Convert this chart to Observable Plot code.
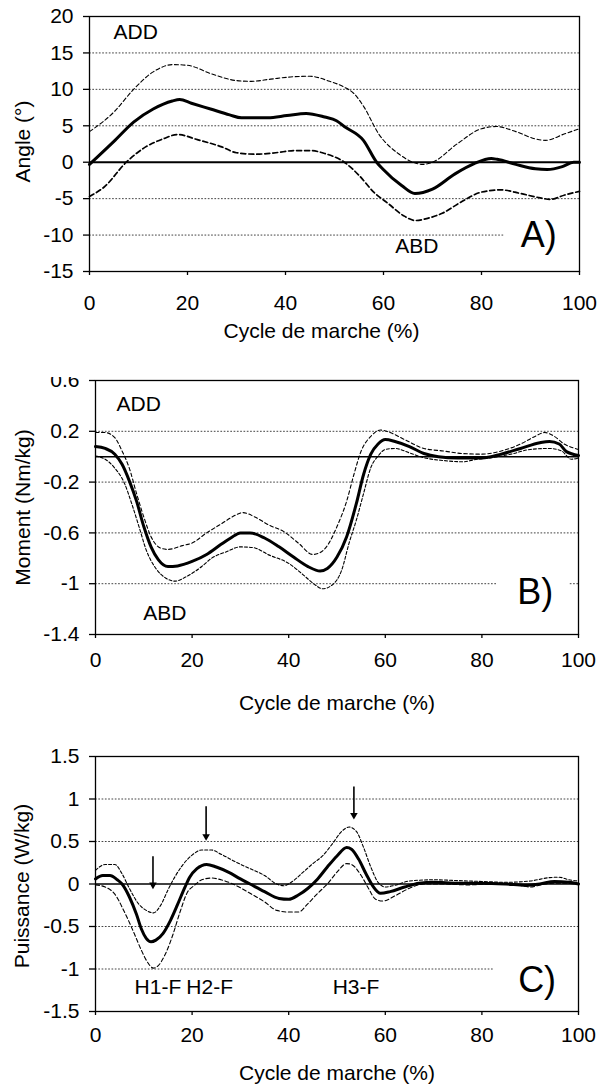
<!DOCTYPE html>
<html><head><meta charset="utf-8">
<script src="https://cdn.jsdelivr.net/npm/d3@7"></script>
<script src="https://cdn.jsdelivr.net/npm/@observablehq/plot@0.6"></script>
<style>
body{margin:0;background:#fff;width:600px;height:1091px;position:relative;overflow:hidden;font-family:"Liberation Sans",Arial,sans-serif}
.panel{position:absolute;left:0;width:600px;overflow:hidden}
</style></head><body>
<div id="a" class="panel" style="top:0;height:350px"></div>
<div id="b" class="panel" style="top:377px;height:343px"></div>
<div id="c" class="panel" style="top:730px;height:361px"></div>
<script>
const FONT = '"Liberation Sans", Arial, Helvetica, sans-serif';
const FS = 21;
const xTicks = [0, 20, 40, 60, 80, 100];
const xTitle = "Cycle de marche (%)";

// ---------- Panel A : angle ----------
const aTicks = [-15, -10, -5, 0, 5, 10, 15, 20];
const aGrid = [15, 10, 5, -5, -10];
const aGaps = [{y: -10, from: 84.6, to: 100}];
const aMeanX = [0,5.2,9,13,16.9,18.4,20.8,24.7,28.6,31,36.4,40.3,44.2,48,50.4,52,55.9,58.6,59.8,63.7,66.4,70,74.6,78.5,82,83.2,87,91,93.4,96.5,98.8,100];
const aMeanY = [-0.3,3.0,5.5,7.3,8.4,8.6,8.1,7.3,6.5,6.1,6.1,6.4,6.7,6.2,5.7,4.9,3.0,0,-0.9,-3.2,-4.3,-3.7,-1.6,-0.2,0.5,0.4,-0.3,-0.9,-1.0,-0.6,0,0];
const aUpX = [0,5,9,13,17,20,25,30,33,37,41,45,49,52,54,56,59,63,66,68,70,75,80,83,87,91,93,97,100];
const aUpY = [4.2,6.9,10,12.4,13.4,13.3,12.1,11.2,11.1,11.4,11.7,11.8,11.1,10.3,9.4,7.6,3.9,1.2,0,-0.3,0,2.5,4.6,4.9,4.2,3.2,3.0,3.9,4.6];
const aLoX = [0,3,7.5,11,15,18,22,27,30,34,38,42,45,48,52,55,58,61,64,66.5,69,72,76,80,84,88,92,94,97,100];
const aLoY = [-4.7,-3.4,0,1.9,3.2,3.8,3.1,2.1,1.3,1.1,1.3,1.6,1.6,1.2,0,-1.8,-4.1,-5.7,-7.3,-8.0,-7.7,-7.0,-5.4,-4.1,-3.8,-4.3,-4.9,-5.1,-4.5,-4.0];
const aNotes = [{label: "ADD", x: 4.9, y: 17.9}, {label: "ABD", x: 62.4, y: -11.6}];
const aTag = [{label: "A)", x: 88, y: -10.1}];

// ---------- Panel B : moment ----------
const bTicks = [-1.4, -1, -0.6, -0.2, 0.2, 0.6];
const bGrid = [0.2, -0.2, -0.6, -1];
const bGaps = [{y: -1, from: 83.2, to: 98.3}];
const bMeanX = [0,2,4,5.5,7,8.5,10,11.5,13,15,17,20,23,26,28,30,32,35,38,41,44,46.5,48,50,52,54,55.5,57,58.5,60,62,65,68,71,75,80,84,88,92,94,96,97.5,100];
const bMeanY = [0.08,0.065,0.02,-0.06,-0.19,-0.35,-0.55,-0.71,-0.81,-0.865,-0.86,-0.825,-0.77,-0.69,-0.64,-0.6,-0.6,-0.64,-0.71,-0.79,-0.865,-0.9,-0.88,-0.79,-0.63,-0.37,-0.14,0.02,0.1,0.135,0.12,0.08,0.025,0,-0.01,-0.01,0.02,0.065,0.11,0.12,0.1,0.04,0.01];
const bUpX = [0,2,4,5.5,7,8.5,10,11.5,13.5,15,18,20,23,26,29,30.5,33,36,39,42,45,46.5,48,50,52,53.5,55,57,59,61,64,68,72,76,80,84,88,91,93,95,97,98.5,100];
const bUpY = [0.19,0.19,0.15,0.045,-0.09,-0.29,-0.475,-0.63,-0.72,-0.73,-0.70,-0.68,-0.6,-0.53,-0.46,-0.44,-0.475,-0.54,-0.59,-0.68,-0.77,-0.755,-0.70,-0.55,-0.35,-0.14,0.045,0.16,0.21,0.19,0.135,0.065,0.045,0.025,0.02,0.045,0.1,0.16,0.19,0.16,0.1,0.075,0.057];
const bLoX = [0,2,4,6,7.5,9,10.5,12.5,14.5,16.5,19,22,24,27,30,32.5,36,40,43,45.5,47,49,51,52.5,54,55.5,57,58.5,60,62,65,68,72,76,79,82,86,90,94,96.5,98.5,100];
const bLoY = [0.005,-0.02,-0.09,-0.21,-0.37,-0.55,-0.735,-0.88,-0.955,-0.98,-0.94,-0.865,-0.8,-0.75,-0.71,-0.715,-0.775,-0.84,-0.93,-1.01,-1.04,-1.01,-0.89,-0.68,-0.5,-0.29,-0.086,0.005,0.057,0.065,0.03,-0.008,-0.03,-0.04,-0.02,-0.008,0.02,0.057,0.065,0.045,-0.02,-0.01];
const bNotes = [{label: "ADD", x: 4.35, y: 0.41}, {label: "ABD", x: 9.9, y: -1.23}];
const bTag = [{label: "B)", x: 87.3, y: -1.067}];

// ---------- Panel C : puissance ----------
const cTicks = [-1.5, -1, -0.5, 0, 0.5, 1, 1.5];
const cGrid = [1, 0.5, -0.5, -1];
const cGaps = [{y: -1, from: 82.4, to: 100}];
const cMeanX = [0,1.5,3,4.5,5.5,7,8.5,9.5,10.5,11.5,12.5,14,15.5,17,18.5,19.5,21,23,25,27.5,30,32,35,38,40,42,44,46,48,50,52,53,54.5,56,57.5,59,61,64,67,70,75,80,85,89,92,95,98,100];
const cMeanY = [0.06,0.1,0.1,0.05,0,-0.15,-0.36,-0.53,-0.64,-0.68,-0.66,-0.58,-0.43,-0.24,-0.04,0.08,0.18,0.23,0.2,0.14,0.06,0,-0.09,-0.17,-0.18,-0.13,-0.05,0.06,0.2,0.33,0.43,0.41,0.29,0.12,-0.03,-0.11,-0.09,-0.035,0.01,0.02,0.01,0.01,0,-0.015,0,0.03,0.02,0];
const cUpX = [0,2,4,5.5,7,9,10.5,12,13.5,15,16.5,18,20,22,24,26,29,32,35,37.5,39,41,43,45,47,49,51,52.5,54,55.5,57,58.5,60,62,65,70,75,80,85,90,94,96,98,100];
const cUpY = [0.16,0.23,0.23,0.12,-0.05,-0.24,-0.31,-0.34,-0.25,-0.07,0.09,0.22,0.34,0.4,0.4,0.35,0.26,0.18,0.1,0,-0.02,0.04,0.14,0.24,0.33,0.47,0.62,0.67,0.62,0.43,0.2,0.02,-0.035,-0.015,0.035,0.05,0.04,0.03,0.02,0.035,0.075,0.08,0.05,0.035];
const cLoX = [0,2,4,6,8,9.5,11,12,13,14.5,16,17.5,19,20.5,22,24,26,29,32,35,37.5,40,42,44,46,48,50,52,53,55,56.5,58,59.5,62,65,68,72,77,82,86,90,93,96,100];
const cLoY = [-0.01,-0.035,-0.12,-0.33,-0.58,-0.78,-0.94,-0.99,-0.96,-0.82,-0.6,-0.33,-0.1,-0.015,0.05,0.07,0.05,-0.015,-0.11,-0.21,-0.31,-0.33,-0.33,-0.23,-0.11,0,0.14,0.24,0.23,0.1,-0.05,-0.18,-0.2,-0.14,-0.05,0,0,-0.01,0,0,-0.035,0,0.01,0];
const cArrowX = [11.9, 22.9, 53.5];
const cArrowTop = [0.32, 0.91, 1.14];
const cArrowTip = [-0.06, 0.51, 0.76];
const cNotes = [{label: "H1-F", x: 8.1, y: -1.22}, {label: "H2-F", x: 18.8, y: -1.22}, {label: "H3-F", x: 49.1, y: -1.22}];
const cTag = [{label: "C)", x: 87.5, y: -1.14}];

// ---------- helpers ----------
const pts = (xs, ys) => xs.map((x, i) => ({x, y: ys[i]}));
function gridSegments(levels, gaps) {
  const segs = [];
  for (const y of levels) {
    const g = gaps.find(g => g.y === y);
    if (!g) segs.push({y, x1: 0, x2: 100});
    else {
      segs.push({y, x1: 0, x2: g.from});
      if (g.to < 100) segs.push({y, x1: g.to, x2: 100});
    }
  }
  return segs;
}
const fmt = d => String(d);

function panel(cfg) {
  const marks = [
    Plot.ruleY(gridSegments(cfg.grid, cfg.gaps), {y: "y", x1: "x1", x2: "x2", stroke: "#444", strokeWidth: 1, strokeDasharray: "1.7,1.6"}),
    Plot.ruleY([0], {stroke: "black", strokeWidth: cfg.zeroW}),
    Plot.line(pts(cfg.upX, cfg.upY), {x: "x", y: "y", curve: "monotone-x", stroke: "black", strokeWidth: cfg.upW, strokeDasharray: cfg.upDash}),
    Plot.line(pts(cfg.loX, cfg.loY), {x: "x", y: "y", curve: "monotone-x", stroke: "black", strokeWidth: cfg.loW, strokeDasharray: cfg.loDash}),
    Plot.line(pts(cfg.meanX, cfg.meanY), {x: "x", y: "y", curve: "monotone-x", stroke: "black", strokeWidth: 3, strokeLinejoin: "round"}),
    Plot.frame({stroke: "black", strokeWidth: 1.3}),
    Plot.axisX({ticks: xTicks, tickSize: 4, tickPadding: cfg.xPad, tickFormat: fmt, label: null, strokeWidth: 1.3, fontSize: FS}),
    Plot.axisY({ticks: cfg.yTicks, tickSize: 6, tickPadding: 10, tickFormat: fmt, label: null, strokeWidth: 1.3, fontSize: FS}),
    Plot.text(cfg.notes, {x: "x", y: "y", text: "label", textAnchor: "start", lineAnchor: "middle", fontSize: FS}),
    Plot.text(cfg.tag, {x: "x", y: "y", text: "label", textAnchor: "start", lineAnchor: "middle", fontSize: 36}),
    Plot.text([cfg.yLabel], {text: d => d, frameAnchor: "left", rotate: -90, dx: cfg.yLabelDx, dy: cfg.yLabelDy, textAnchor: "middle", lineAnchor: "middle", fontSize: FS}),
    Plot.text([xTitle], {text: d => d, frameAnchor: "bottom", dx: cfg.xLabelDx, dy: cfg.xLabelDy, textAnchor: "middle", lineAnchor: "middle", fontSize: FS})
  ];
  if (cfg.arrows) {
    const arr = cfg.arrows.x.map((x, i) => ({x, top: cfg.arrows.top[i], tip: cfg.arrows.tip[i]}));
    marks.push(Plot.ruleX(arr, {x: "x", y1: "top", y2: "tip", stroke: "black", strokeWidth: 1.6, insetBottom: 4}));
    marks.push(Plot.dot(arr, {x: "x", y: "tip", dy: -4.3, symbol: "triangle", r: 2.8, rotate: 180, fill: "black", stroke: "none"}));
  }
  const chart = Plot.plot({
    width: 600, height: cfg.height,
    marginTop: cfg.mt, marginBottom: cfg.mb, marginLeft: cfg.ml, marginRight: cfg.mr,
    style: {fontFamily: FONT, fontSize: FS + "px", color: "black", background: "white"},
    x: {domain: [0, 100]},
    y: {domain: cfg.yDomain},
    marks
  });
  document.querySelector(cfg.el).appendChild(chart);
}

panel({el: "#a", height: 350, mt: 16, mb: 79, ml: 89, mr: 21, yDomain: [-15, 20], yTicks: aTicks,
  grid: aGrid, gaps: aGaps, zeroW: 2, xPad: 20,
  meanX: aMeanX, meanY: aMeanY, upX: aUpX, upY: aUpY, loX: aLoX, loY: aLoY,
  upW: 1.1, upDash: "4,2.5", loW: 1.7, loDash: "5,3",
  notes: aNotes, tag: aTag, yLabel: "Angle (°)", yLabelDx: -66, yLabelDy: -2.5, xLabelDx: -13, xLabelDy: 60});

panel({el: "#b", height: 343, mt: 3, mb: 86, ml: 95, mr: 22, yDomain: [-1.4, 0.6], yTicks: bTicks,
  grid: bGrid, gaps: bGaps, zeroW: 1.4, xPad: 13.5,
  meanX: bMeanX, meanY: bMeanY, upX: bUpX, upY: bUpY, loX: bLoX, loY: bLoY,
  upW: 1.1, upDash: "3.5,2.5", loW: 1.1, loDash: "3,2",
  notes: bNotes, tag: bTag, yLabel: "Moment (Nm/kg)", yLabelDx: -72, yLabelDy: 0, xLabelDx: 0, xLabelDy: 68.5});

panel({el: "#c", height: 361, mt: 26, mb: 80, ml: 95, mr: 22, yDomain: [-1.5, 1.5], yTicks: cTicks,
  grid: cGrid, gaps: cGaps, zeroW: 1.7, xPad: 12,
  meanX: cMeanX, meanY: cMeanY, upX: cUpX, upY: cUpY, loX: cLoX, loY: cLoY,
  upW: 1.1, upDash: "3,2", loW: 1.1, loDash: "4,2.5",
  notes: cNotes, tag: cTag, yLabel: "Puissance (W/kg)", yLabelDx: -73, yLabelDy: 2, xLabelDx: 0, xLabelDy: 62,
  arrows: {x: cArrowX, top: cArrowTop, tip: cArrowTip}});
</script>
</body></html>
